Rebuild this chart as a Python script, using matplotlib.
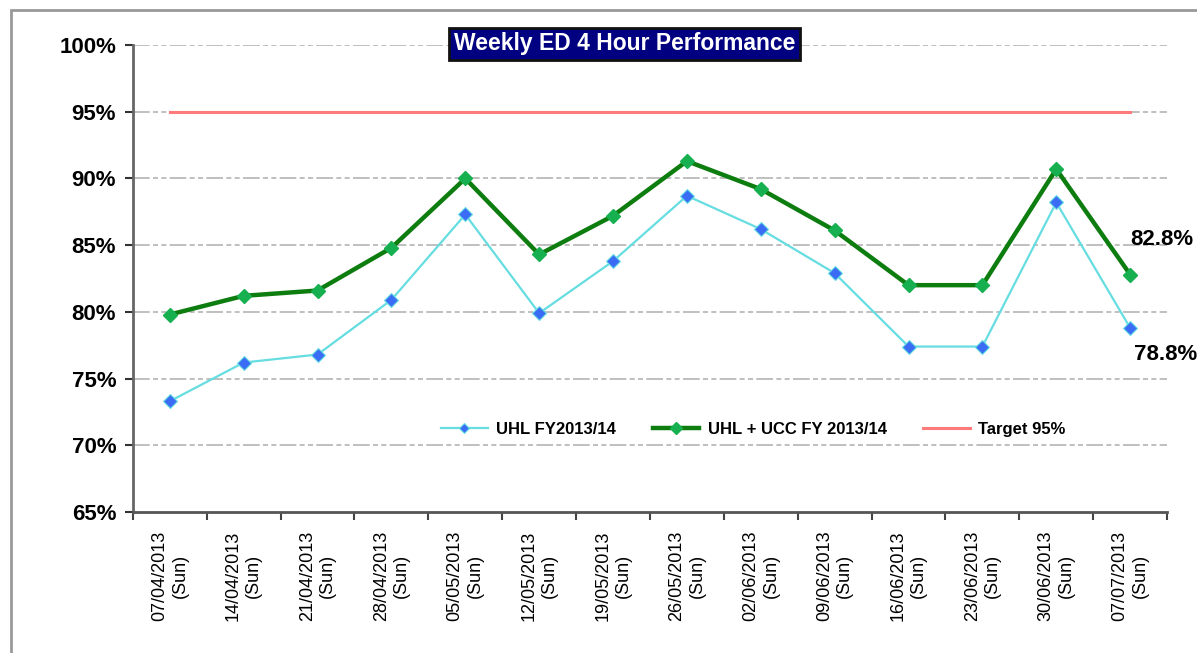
import matplotlib
matplotlib.use("Agg")
import matplotlib.pyplot as plt
from matplotlib.patches import Rectangle

plt.rcParams['font.family'] = ['Liberation Sans', 'DejaVu Sans']

dates = ["07/04/2013", "14/04/2013", "21/04/2013", "28/04/2013", "05/05/2013",
         "12/05/2013", "19/05/2013", "26/05/2013", "02/06/2013", "09/06/2013",
         "16/06/2013", "23/06/2013", "30/06/2013", "07/07/2013"]
uhl = [73.3, 76.2, 76.8, 80.9, 87.3, 79.9, 83.8, 88.7, 86.2, 82.9, 77.4, 77.4, 88.2, 78.8]
uhl_ucc = [79.8, 81.2, 81.6, 84.8, 90.0, 84.3, 87.2, 91.3, 89.2, 86.1, 82.0, 82.0, 90.7, 82.8]
target = [95.0] * len(dates)
yticks = [65, 70, 75, 80, 85, 90, 95, 100]

fig = plt.figure(figsize=(11.97, 6.53), dpi=100)
ax = fig.add_axes([0.111, 0.216, 0.864, 0.715])

x = list(range(len(dates)))
ax.set_xlim(-0.5, len(dates) - 0.5)
ax.set_ylim(65, 100)

for v in yticks[1:]:
    ax.axhline(v, color='#b4b4b4', lw=1.2, ls=(0, (10, 2, 3, 2, 3, 2)), zorder=1)

ax.plot(x, uhl, color='#66dde0', lw=1.6, marker='D', ms=7,
        mfc='#3b6cf5', mec='#66dde0', mew=0.8, label='UHL FY2013/14', zorder=3)
ax.plot(x, uhl_ucc, color='#0e7d10', lw=3.2, marker='D', ms=7.5,
        mfc='#16b050', mec='#16b050', label='UHL + UCC FY 2013/14', zorder=4)
ax.plot(x, target, color='#ff7a7a', lw=2.2, label='Target 95%', zorder=2)

ax.text(x[-1], uhl_ucc[-1] + 2.65, f"{uhl_ucc[-1]:.1f}%", fontsize=16,
        fontweight='bold', ha='left', va='center', clip_on=False)
ax.text(x[-1] + 0.05, uhl[-1] - 2.0, f"{uhl[-1]:.1f}%", fontsize=16,
        fontweight='bold', ha='left', va='center', clip_on=False)

ax.set_yticks(yticks)
ax.set_yticklabels([f"{v}%" for v in yticks], fontsize=16, fontweight='bold')
ax.set_xticks([i - 0.5 for i in range(len(dates) + 1)])
ax.set_xticklabels([])
ax.tick_params(axis='x', direction='out', length=6, width=1.5, color='#444444')
ax.tick_params(axis='y', direction='out', length=6, width=1.5, color='#333333', pad=6)
for i, d in enumerate(dates):
    ax.text(i, -0.04, f"{d}\n(Sun)", transform=ax.get_xaxis_transform(),
            rotation=90, ha='center', va='top', fontsize=13, multialignment='center',
            linespacing=1.25)

for s in ['top', 'right']:
    ax.spines[s].set_visible(False)
ax.spines['left'].set_color('#666666')
ax.spines['left'].set_linewidth(2)
ax.spines['bottom'].set_color('#555555')
ax.spines['bottom'].set_linewidth(2)

leg = ax.legend(loc='center', bbox_to_anchor=(0.6, 0.176), ncol=3, frameon=False,
                handlelength=2.8, columnspacing=2.2, handletextpad=0.5, markerscale=0.8,
                prop={'weight': 'bold', 'size': 12})

fig.text(0.5215, 0.933, "Weekly ED 4 Hour Performance", color='white', fontsize=16.5,
         fontweight='bold', ha='center', va='center',
         bbox=dict(boxstyle='square,pad=0.2', fc='#000080', ec='#111111', lw=2),
         zorder=10)

fig.add_artist(Rectangle((0.009, -0.1), 1.1, 1.085, transform=fig.transFigure,
                         fill=False, ec='#999999', lw=2))

fig.savefig("out.png", dpi=100)
